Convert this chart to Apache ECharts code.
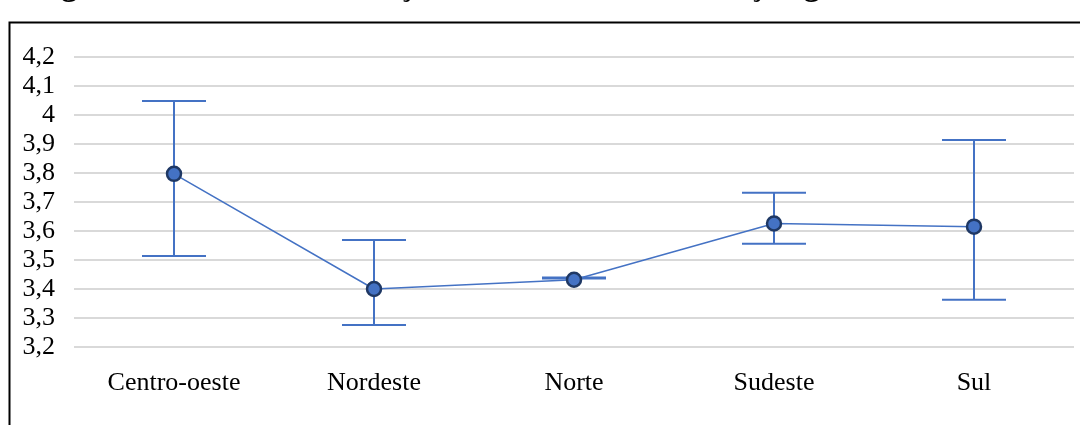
<!DOCTYPE html>
<html>
<head>
<meta charset="utf-8">
<script src="https://cdn.jsdelivr.net/npm/echarts@6/dist/echarts.min.js"></script>
<style>html,body{margin:0;padding:0;background:#fff}#c{width:1080px;height:425px}</style>
</head>
<body>
<div id="c"></div>
<script>
var categories = ['Centro-oeste', 'Nordeste', 'Norte', 'Sudeste', 'Sul'];
var meanValues = [3.797, 3.40, 3.432, 3.626, 3.615];
var lowValues  = [3.514, 3.276, 3.436, 3.556, 3.363];
var highValues = [4.048, 3.569, 3.440, 3.732, 3.914];
var titleText = 'Regiões do Brasil de instalações das unidades de atuação governamental federal';

var chart = echarts.init(document.getElementById('c'), null, {renderer: 'canvas'});
var blue = '#4472C4';
var serif = '"Liberation Serif", "Times New Roman", serif';

chart.setOption({
  animation: false,
  backgroundColor: '#fff',
  grid: {left: 74, right: 6, top: 57, bottom: 78, containLabel: false},
  xAxis: {
    type: 'category',
    data: categories,
    boundaryGap: true,
    axisLine: {show: false},
    axisTick: {show: false},
    axisLabel: {fontFamily: serif, fontSize: 26, color: '#000', margin: 23}
  },
  yAxis: {
    type: 'value',
    min: 3.2, max: 4.2, interval: 0.1,
    axisLine: {show: false},
    axisTick: {show: false},
    splitLine: {lineStyle: {color: '#d9d9d9', width: 2}},
    axisLabel: {
      fontFamily: serif, fontSize: 26, color: '#000', margin: 19,
      formatter: function (v) { return String(Number(v.toFixed(1))).replace('.', ','); }
    }
  },
  graphic: [
    {type: 'rect', left: 7, top: 20, shape: {width: 1200, height: 600},
     style: {fill: 'none', stroke: '#000', lineWidth: 2}, z: 100},
    {type: 'text', left: 24, top: -29,
     style: {text: titleText, font: 'bold 32px ' + serif, fill: '#000'}, z: 100}
  ],
  series: [
    {
      type: 'custom',
      z: 2,
      renderItem: function (params, api) {
        var i = api.value(0);
        var lo = api.coord([i, api.value(1)]);
        var hi = api.coord([i, api.value(2)]);
        var hw = 32;
        var st = {stroke: blue, lineWidth: 2};
        return {
          type: 'group',
          children: [
            {type: 'line', shape: {x1: lo[0], y1: lo[1], x2: hi[0], y2: hi[1]}, style: st},
            {type: 'line', shape: {x1: hi[0] - hw, y1: hi[1], x2: hi[0] + hw, y2: hi[1]}, style: st},
            {type: 'line', shape: {x1: lo[0] - hw, y1: lo[1], x2: lo[0] + hw, y2: lo[1]}, style: st}
          ]
        };
      },
      data: categories.map(function (c, i) { return [i, lowValues[i], highValues[i]]; })
    },
    {
      type: 'line',
      z: 3,
      data: meanValues,
      symbol: 'circle',
      symbolSize: 14,
      lineStyle: {color: blue, width: 1.5},
      itemStyle: {color: blue, borderColor: '#1F3864', borderWidth: 2.5}
    }
  ]
});
</script>
</body>
</html>
